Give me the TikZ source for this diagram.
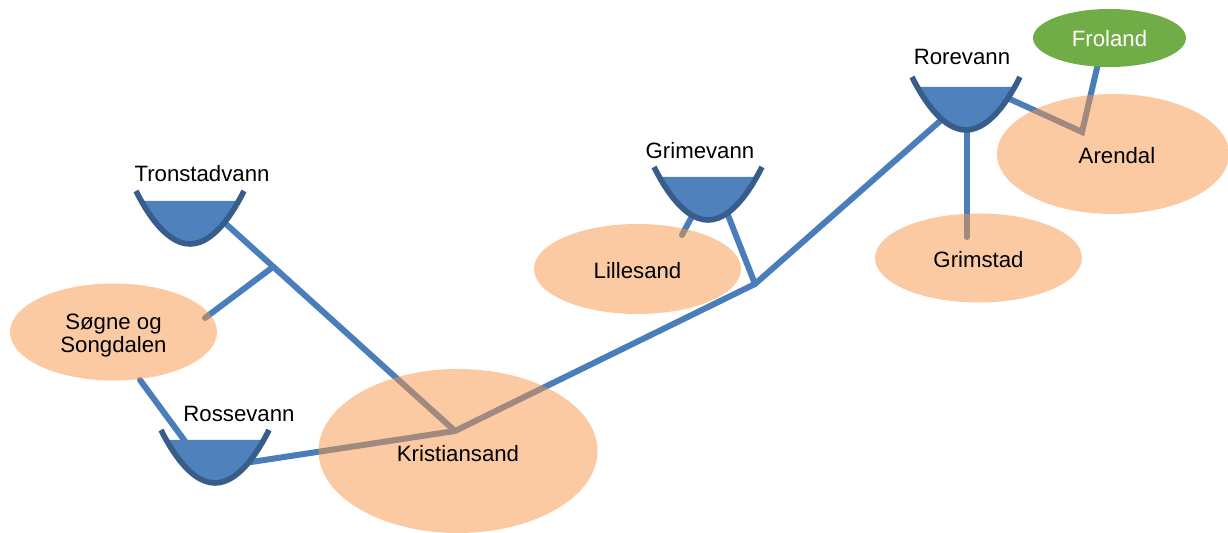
\documentclass[tikz,border=0pt]{standalone}
\usepackage{fontspec}
\setmainfont{Liberation Sans}
\usetikzlibrary{shapes.geometric}
\definecolor{pipeblue}{HTML}{4A7EBB}
\definecolor{waterblue}{HTML}{4F81BD}
\definecolor{bowlblue}{HTML}{385D8A}
\definecolor{townorange}{HTML}{F79646}
\definecolor{frolandgreen}{HTML}{70AD47}
\tikzset{
  pipe/.style={draw=pipeblue, line width=3pt, line cap=round, line join=miter},
  town/.style={ellipse, fill=townorange, fill opacity=.5, text opacity=1, inner sep=0pt, align=center, text height=10pt, font=\fontsize{11.1}{11.6}\selectfont},
  lake/.style={font=\fontsize{11.1}{11.6}\selectfont, inner sep=0pt},
  basin/.pic={
    \fill[waterblue] (-49,10) parabola bend (0,53) (49,10) -- cycle;
    \draw[bowlblue, line width=2.8pt] (-54,0) parabola bend (0,53) (54,0);
  }
}
\begin{document}
\begin{tikzpicture}[x=0.5pt, y=-0.5pt]
              \useasboundingbox (0,0) rectangle (1228,533);
              % junctions %
              \coordinate (jkrist) at (455,431);
              \coordinate (jgrim) at (755,284);
              \coordinate (jarend) at (1082,132);
              \coordinate (jtron) at (273,267);
              \coordinate (tronin) at (205,205);
              \coordinate (rossein) at (190,448);
              \coordinate (rosseout) at (225,466);
              \coordinate (grimeleft) at (698,205);
              \coordinate (grimeright) at (724,205);
              \coordinate (roreleft) at (964,100);
              \coordinate (roreright) at (990,90);
              \coordinate (rorebottom) at (967,110);
              \coordinate (endlille) at (682,235);
              \coordinate (endgrimstad) at (967,237);
              \coordinate (endsogneup) at (205,318);
              \coordinate (endsognedown) at (140,380);
              \coordinate (frolandin) at (1104,38);

              % edges %
              \draw[pipe] (tronin) -- (jkrist);
              \draw[pipe] (jtron) -- (endsogneup);
              \draw[pipe] (endsognedown) -- (rossein);
              \draw[pipe] (rosseout) -- (jkrist) -- (jgrim) -- (roreleft);
              \draw[pipe] (grimeright) -- (jgrim);
              \draw[pipe] (grimeleft) -- (endlille);
              \draw[pipe] (rorebottom) -- (endgrimstad);
              \draw[pipe] (roreright) -- (jarend) -- (frolandin);

              % nodes %
              \node[town, text height=11pt, minimum width=139.5pt, minimum height=82pt] (kristiansand) at (458,451) {Kristiansand};
              \node[town, text height={}, minimum width=103.5pt, minimum height=48.5pt] (sogne) at (113.5,332) {\rule{0pt}{11.5pt}Søgne og\\Songdalen};
              \node[town, minimum width=103.5pt, minimum height=45pt] (lillesand) at (637.5,269) {Lillesand};
              \node[town, minimum width=103.5pt, minimum height=44.5pt] (grimstad) at (978.5,258) {Grimstad};
              \node[town, minimum width=116pt, minimum height=60pt] (arendal) at (1113,154) {\hspace{4pt}Arendal};
              \node[ellipse, fill=frolandgreen, text=white, inner sep=0pt, text height=9pt, minimum width=76.5pt, minimum height=29pt, font=\fontsize{11.1}{11.6}\selectfont] (froland) at (1109.5,38) {Froland};

              % lakes %
              \pic at (190,191) {basin};
              \pic at (215,430) {basin};
              \pic at (708,167) {basin};
              \pic at (966,77) {basin};
              \node[lake] (tronstadvann) at (202,174) {Tronstadvann};
              \node[lake] (rossevann) at (239,414) {Rossevann};
              \node[lake] (grimevann) at (700,151) {Grimevann};
              \node[lake] (rorevann) at (962,57) {Rorevann};
            \end{tikzpicture}
\end{document}
